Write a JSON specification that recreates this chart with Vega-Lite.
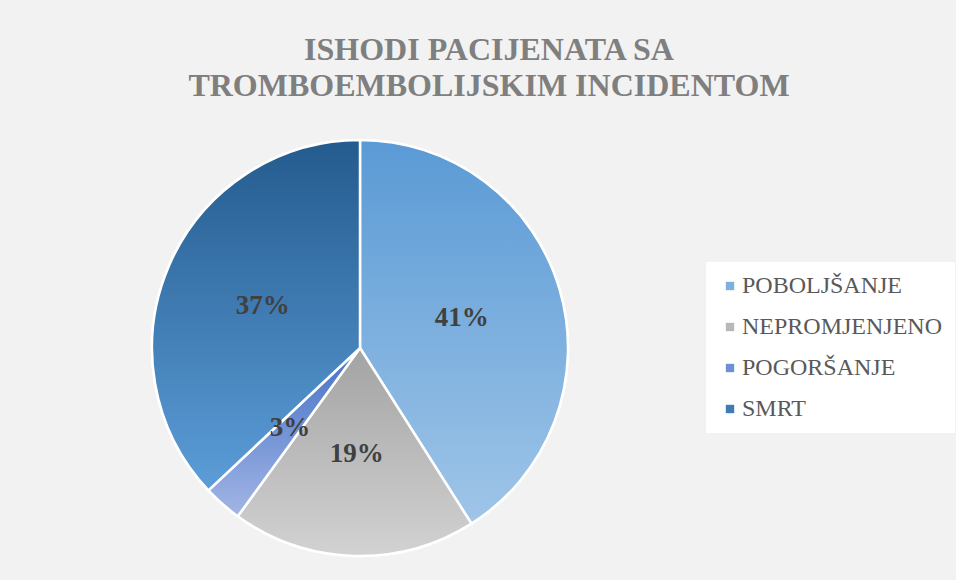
{
  "$schema": "https://vega.github.io/schema/vega-lite/v6.json",
  "width": 416,
  "height": 416,
  "autosize": {"type": "none"},
  "padding": {"left": 152, "top": 140, "right": 388, "bottom": 24},
  "background": "#f2f2f2",
  "title": {
    "text": ["ISHODI PACIJENATA SA", "TROMBOEMBOLIJSKIM INCIDENTOM"],
    "font": "Liberation Serif",
    "fontSize": 32,
    "fontWeight": "bold",
    "color": "#7f7f7f",
    "lineHeight": 36,
    "anchor": "middle",
    "dx": 129,
    "offset": 32
  },
  "data": {
    "values": [
      {"ishod": "POBOLJŠANJE", "pct": 41, "label": "41%", "order": 1},
      {"ishod": "NEPROMJENJENO", "pct": 19, "label": "19%", "order": 2},
      {"ishod": "POGORŠANJE", "pct": 3, "label": "3%", "order": 3},
      {"ishod": "SMRT", "pct": 37, "label": "37%", "order": 4}
    ]
  },
  "encoding": {
    "theta": {"field": "pct", "type": "quantitative", "stack": true},
    "order": {"field": "order", "type": "quantitative"}
  },
  "layer": [
    {
      "mark": {"type": "arc", "outerRadius": 208, "stroke": "white", "strokeWidth": 2.5},
      "encoding": {
        "color": {
          "field": "ishod",
          "type": "nominal",
          "sort": ["POBOLJŠANJE", "NEPROMJENJENO", "POGORŠANJE", "SMRT"],
          "scale": {
            "domain": ["POBOLJŠANJE", "NEPROMJENJENO", "POGORŠANJE", "SMRT"],
            "range": ["#7bb0df", "#b8b8b8", "#6f8fd4", "#3f7bb4"]
          },
          "legend": {
            "title": null,
            "orient": "none",
            "legendX": 554,
            "legendY": 122,
            "symbolType": "square",
            "symbolSize": 70,
            "symbolStrokeWidth": 0,
            "symbolOpacity": 1,
            "labelFont": "Liberation Serif",
            "labelFontSize": 24,
            "labelColor": "#595959",
            "labelOffset": 0,
            "rowPadding": 17,
            "padding": 12,
            "fillColor": "#ffffff",
            "labelLimit": 400
          }
        }
      }
    },
    {
      "mark": {"type": "arc", "outerRadius": 208, "stroke": "white", "strokeWidth": 2.5},
      "encoding": {
        "color": {
          "condition": [
            {"test": "datum.ishod === 'POBOLJŠANJE'", "value": {"gradient": "linear", "x1": 0, "y1": 0, "x2": 0, "y2": 1, "stops": [{"offset": 0, "color": "#5a9ad5"}, {"offset": 1, "color": "#9fc5e8"}]}},
            {"test": "datum.ishod === 'NEPROMJENJENO'", "value": {"gradient": "linear", "x1": 0, "y1": 0, "x2": 0, "y2": 1, "stops": [{"offset": 0, "color": "#a3a3a3"}, {"offset": 1, "color": "#d2d2d2"}]}},
            {"test": "datum.ishod === 'POGORŠANJE'", "value": {"gradient": "linear", "x1": 0, "y1": 0, "x2": 0, "y2": 1, "stops": [{"offset": 0, "color": "#4470c6"}, {"offset": 1, "color": "#a2b6e5"}]}}
          ],
          "value": {"gradient": "linear", "x1": 0, "y1": 0, "x2": 0, "y2": 1, "stops": [{"offset": 0, "color": "#245b8e"}, {"offset": 1, "color": "#5c9dd8"}]}
        }
      }
    },
    {
      "mark": {"type": "text", "radius": 106, "font": "Liberation Serif", "fontSize": 27, "fontWeight": "bold", "color": "#404040"},
      "encoding": {
        "text": {"field": "label", "type": "nominal"}
      }
    }
  ]
}
